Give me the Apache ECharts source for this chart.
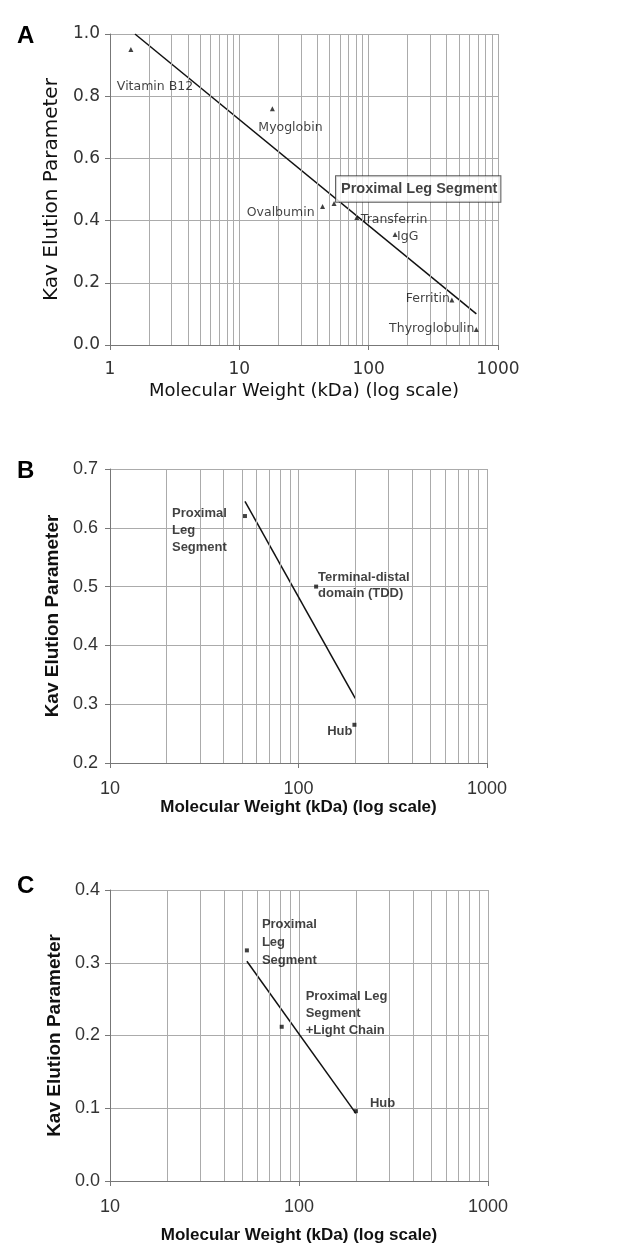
<!DOCTYPE html>
<html>
<head>
<meta charset="utf-8">
<script src="https://cdn.jsdelivr.net/npm/echarts@6/dist/echarts.min.js"></script>
<style>
  html, body { margin: 0; padding: 0; background: #fff; }
  #chart { width: 625px; height: 1248px; }
</style>
</head>
<body>
<div id="chart"></div>
<script>
// panel A: calibration standards
const aNames = ['Vitamin B12', 'Myoglobin', 'Ovalbumin', 'Proximal Leg Segment', 'Transferrin', 'IgG', 'Ferritin', 'Thyroglobulin']
const aMw = [1.45, 18, 44, 54, 81, 160, 440, 680]
const aKav = [0.95, 0.76, 0.445, 0.455, 0.41, 0.355, 0.145, 0.05]
const aFitMw = [1.56, 680]
const aFitKav = [1.0, 0.1]

// panel B
const bNames = ['Proximal\nLeg\nSegment', 'Terminal-distal\ndomain (TDD)', 'Hub']
const bMw = [52, 124, 198]
const bKav = [0.62, 0.5, 0.265]
const bFitMw = [52, 200]
const bFitKav = [0.645, 0.31]

// panel C
const cNames = ['Proximal\nLeg\nSegment', 'Proximal Leg\nSegment\n+Light Chain', 'Hub']
const cMw = [53, 81, 200]
const cKav = [0.317, 0.212, 0.096]
const cFitMw = [53, 200]
const cFitKav = [0.302, 0.093]

// minor log grid lines
const aMinor = [2, 3, 4, 5, 6, 7, 8, 9, 20, 30, 40, 50, 60, 70, 80, 90, 200, 300, 400, 500, 600, 700, 800, 900]
const bcMinor = [20, 30, 40, 50, 60, 70, 80, 90, 200, 300, 400, 500, 600, 700, 800, 900]

// label placement: [dx, dy, align, verticalAlign, lineHeight]
const aLabelPos = [
  [-14, 37, 'left', 'middle'],
  [-14, 19, 'left', 'middle'],
  [-8, 6, 'right', 'middle'],
  [2, -14.5, 'left', 'middle'],
  [4, 2, 'left', 'middle'],
  [2, 2, 'left', 'middle'],
  [-2, -1, 'right', 'middle'],
  [-2, -1, 'right', 'middle']
]
const bLabelPos = [
  [-73, -11, 'left', 'top', 17],
  [2, -17, 'left', 'top', 16],
  [-2, 7, 'right', 'middle', 16]
]
const cLabelPos = [
  [15, -35, 'left', 'top', 18],
  [24, -39, 'left', 'top', 17],
  [14, -8, 'left', 'middle', 16]
]

const GRID = '#ababab'
const AXIS = '#777'
const sansA = 'DejaVu Sans'
const sansB = 'Liberation Sans'

const chart = echarts.init(document.getElementById('chart'))

const xAxisFor = (idx, min, font, size, margin, nameSize, nameGap, bold) => ({
  gridIndex: idx,
  type: 'log',
  logBase: 10,
  min,
  max: 1000,
  name: 'Molecular Weight (kDa) (log scale)',
  nameLocation: 'middle',
  nameGap,
  nameTextStyle: { fontFamily: font, fontSize: nameSize, fontWeight: bold ? 'bold' : 'normal', color: '#111' },
  axisLine: { show: true, lineStyle: { color: AXIS, width: 1 } },
  axisTick: { show: true, length: 5, lineStyle: { color: AXIS } },
  axisLabel: { fontFamily: font, fontSize: size, color: '#333', margin, formatter: (v) => String(Math.round(v)) },
  splitLine: { show: true, lineStyle: { color: GRID, width: 1 } }
})

const yAxisFor = (idx, min, max, font, size, margin, nameSize, nameGap, bold) => ({
  gridIndex: idx,
  type: 'value',
  min,
  max,
  interval: 0.1 * (idx === 0 ? 2 : 1),
  name: 'Kav Elution Parameter',
  nameLocation: 'middle',
  nameGap,
  nameTextStyle: { fontFamily: font, fontSize: nameSize, fontWeight: bold ? 'bold' : 'normal', color: '#111' },
  axisLine: { show: true, lineStyle: { color: AXIS, width: 1 } },
  axisTick: { show: true, length: 5, lineStyle: { color: AXIS } },
  axisLabel: { fontFamily: font, fontSize: size, color: '#333', margin, formatter: (v) => v.toFixed(1) },
  splitLine: { show: true, lineStyle: { color: GRID, width: 1 } }
})

const minorLines = (idx, values) => ({
  type: 'line',
  xAxisIndex: idx,
  yAxisIndex: idx,
  data: [],
  silent: true,
  z: 1,
  markLine: {
    silent: true,
    animation: false,
    symbol: 'none',
    label: { show: false },
    lineStyle: { color: GRID, width: 1, type: 'solid' },
    emphasis: { disabled: true },
    data: values.map((v) => ({ xAxis: v }))
  }
})

const fitLine = (idx, mw, kav) => ({
  type: 'line',
  xAxisIndex: idx,
  yAxisIndex: idx,
  symbol: 'none',
  z: 3,
  lineStyle: { color: '#111', width: 1.5 },
  data: mw.map((m, i) => [m, kav[i]])
})

const points = (idx, names, mw, kav, pos, symbol, size, font, fontSize, bold) => ({
  type: 'scatter',
  xAxisIndex: idx,
  yAxisIndex: idx,
  symbol,
  symbolSize: size,
  z: 5,
  itemStyle: { color: '#111' },
  data: names.map((n, i) => ({
    name: n,
    value: [mw[i], kav[i]],
    label: {
      show: true,
      position: 'inside',
      offset: [pos[i][0], pos[i][1]],
      align: pos[i][2],
      verticalAlign: pos[i][3],
      lineHeight: pos[i][4] || fontSize + 2,
      formatter: '{b}',
      fontFamily: font,
      fontSize,
      fontWeight: bold ? 'bold' : 'normal',
      color: '#111',
      textBorderWidth: 0,
      textBorderColor: 'transparent'
    }
  }))
})

const seriesA = points(0, aNames, aMw, aKav, aLabelPos, 'triangle', 5, sansA, 12.5, false)
// boxed annotation for the segment in panel A
Object.assign(seriesA.data[3].label, {
  fontFamily: sansB,
  fontWeight: 'bold',
  fontSize: 14.5,
  borderColor: '#333',
  borderWidth: 1,
  backgroundColor: '#fff',
  padding: [6, 3, 5, 5]
})

chart.setOption({
  animation: false,
  backgroundColor: '#fff',
  title: [
    { text: 'A', left: 12, top: 19, textStyle: { fontFamily: sansB, fontSize: 24, fontWeight: 'bold', color: '#000' } },
    { text: 'B', left: 12, top: 454, textStyle: { fontFamily: sansB, fontSize: 24, fontWeight: 'bold', color: '#000' } },
    { text: 'C', left: 12, top: 869, textStyle: { fontFamily: sansB, fontSize: 24, fontWeight: 'bold', color: '#000' } }
  ],
  grid: [
    { left: 110, top: 34, width: 388, height: 311 },
    { left: 110, top: 469, width: 377, height: 294 },
    { left: 110, top: 890, width: 378, height: 291 }
  ],
  xAxis: [
    xAxisFor(0, 1, sansA, 17, 16, 18, 37, false),
    xAxisFor(1, 10, sansB, 18, 17, 17, 34, true),
    xAxisFor(2, 10, sansB, 18, 17, 17, 46, true)
  ],
  yAxis: [
    yAxisFor(0, 0, 1, sansA, 17, 10, 20, 38, false),
    yAxisFor(1, 0.2, 0.7, sansB, 18, 12, 19, 37, true),
    yAxisFor(2, 0, 0.4, sansB, 18, 10, 19, 37, true)
  ],
  series: [
    minorLines(0, aMinor),
    minorLines(1, bcMinor),
    minorLines(2, bcMinor),
    fitLine(0, aFitMw, aFitKav),
    fitLine(1, bFitMw, bFitKav),
    fitLine(2, cFitMw, cFitKav),
    seriesA,
    points(1, bNames, bMw, bKav, bLabelPos, 'rect', 4, sansB, 13, true),
    points(2, cNames, cMw, cKav, cLabelPos, 'rect', 4, sansB, 13, true)
  ]
})
</script>
</body>
</html>
